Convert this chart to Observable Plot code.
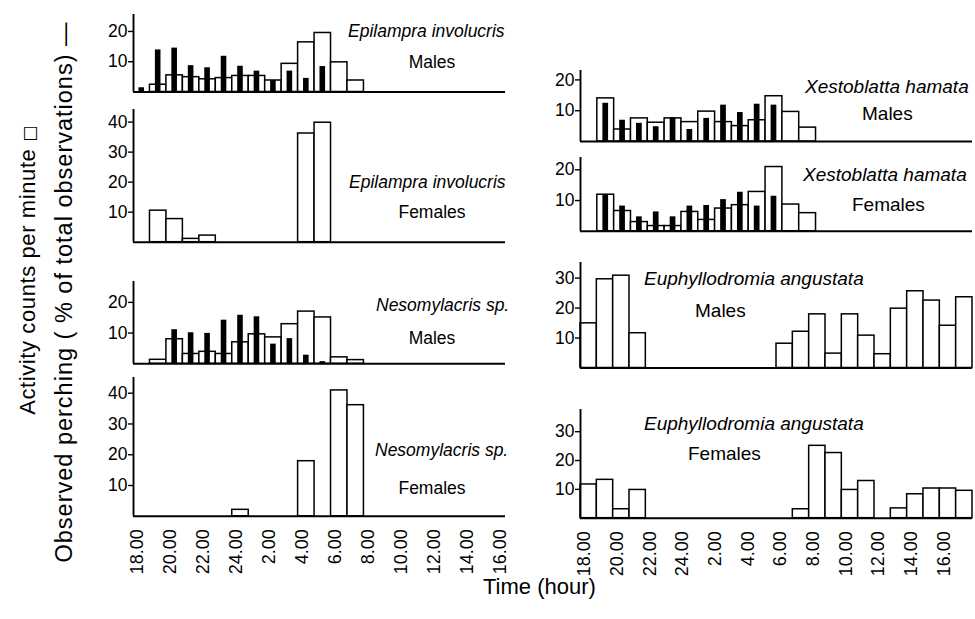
<!DOCTYPE html>
<html><head><meta charset="utf-8">
<script src="https://cdn.jsdelivr.net/npm/d3@7"></script>
<script src="https://cdn.jsdelivr.net/npm/@observablehq/plot@0.6"></script>
<style>
body{margin:0;background:#fff;}
#chart{position:relative;width:975px;height:619px;font-family:"Liberation Sans",Arial,Helvetica,sans-serif;overflow:hidden;}
#chart svg{position:absolute;max-width:none;}
</style></head><body><div id="chart"></div>
<script>
// ---- tick labels (clock hours, 18.00 -> 16.00 next day) ----
const tickHours = [18, 20, 22, 24, 26, 28, 30, 32, 34, 36, 38, 40];
const hourLabels = ["18.00","20.00","22.00","24.00","2.00","4.00","6.00","8.00","10.00","12.00","14.00","16.00"];

// ---- Epilampra involucris, males ----
const epiMaleActHours = [19,20,21,22,23,24,1,2,3,4,5,6,7];
const epiMaleAct      = [2.4,5.5,4.9,4.2,4.6,5.3,5.3,3.8,9.3,16.4,19.5,9.8,3.8];
const epiMalePerHours = [18,19,20,21,22,23,24,1,2,3,4,5];
const epiMalePer      = [1.4,13.9,14.5,8.7,8.0,11.8,8.5,6.9,3.8,6.9,4.5,8.4];
// ---- Epilampra involucris, females ----
const epiFemActHours = [19,20,21,22,4,5];
const epiFemAct      = [10.5,7.7,1.1,2.2,36.2,39.8];
// ---- Nesomylacris sp., males ----
const nesMaleActHours = [19,20,21,22,23,24,1,2,3,4,5,6,7];
const nesMaleAct      = [1.3,8.0,3.2,3.9,3.2,7.0,9.6,8.6,12.9,17.0,15.1,2.1,1.2];
const nesMalePerHours = [20,21,22,23,24,1,2,3,4,5];
const nesMalePer      = [11.1,10.1,9.9,14.2,15.8,15.3,6.4,8.2,2.8,0.7];
// ---- Nesomylacris sp., females ----
const nesFemActHours = [24,4,6,7];
const nesFemAct      = [2.1,17.9,40.9,36.1];
// ---- Xestoblatta hamata, males ----
const xesMaleActHours = [19,20,21,22,23,24,1,2,3,4,5,6,7];
const xesMaleAct      = [14.0,3.9,7.5,6.1,7.5,6.3,9.7,6.3,5.0,6.9,14.7,9.6,4.5];
const xesMalePerHours = [19,20,21,22,23,24,1,2,3,4,5];
const xesMalePer      = [12.4,6.9,5.9,4.8,7.7,3.9,7.5,11.8,9.4,12.1,11.8];
// ---- Xestoblatta hamata, females ----
const xesFemActHours = [19,20,21,22,23,24,1,2,3,4,5,6,7];
const xesFemAct      = [11.9,6.6,3.0,1.7,1.7,6.3,3.7,7.4,8.5,12.8,20.9,8.7,5.9];
const xesFemPerHours = [19,20,21,22,23,24,1,2,3,4,5];
const xesFemPer      = [11.9,8.2,4.7,6.3,4.7,8.2,8.4,10.3,12.7,8.2,11.4];
// ---- Euphyllodromia angustata, males ----
const eupMaleActHours = [18,19,20,21,6,7,8,9,10,11,12,13,14,15,16,17];
const eupMaleAct      = [14.9,29.6,30.8,11.6,8.1,12.1,17.9,4.8,17.9,10.8,4.6,19.8,25.6,22.5,14.1,23.6];
// ---- Euphyllodromia angustata, females ----
const eupFemActHours = [18,19,20,21,7,8,9,10,11,13,14,15,16,17];
const eupFemAct      = [11.7,13.3,3.1,9.8,3.1,25.1,22.6,9.8,12.9,3.4,8.3,10.3,10.3,9.5];

const FONT = '"Liberation Sans",Arial,Helvetica,sans-serif';
const chart = document.getElementById("chart");
const toT = h => (h < 18 ? h + 24 : h);
const rows = (hours, vals) => hours.map((h, i) => ({t: toT(h), v: vals[i]}));

function panel({x0, x1, yTop, yBase, xdomain, ymax, yticks, act, per, bottom}) {
  const ml = 50, mr = 4, mt = 4, mb = bottom ? 85 : 4;
  const marks = [
    Plot.rect(act, {x1: d => d.t - 0.5, x2: d => d.t + 0.5, y1: 0, y2: "v", fill: "white", stroke: "black", strokeWidth: 1.5}),
    Plot.rect(per, {x1: d => d.t - 0.17, x2: d => d.t + 0.17, y1: 0, y2: "v", fill: "black"}),
    Plot.ruleY([0], {stroke: "black", strokeWidth: 1.9}),
    Plot.ruleX([xdomain[0]], {y1: 0, y2: ymax, stroke: "black", strokeWidth: 1.9}),
    Plot.axisY({ticks: yticks, tickSize: 5, tickPadding: 1, fontSize: 17.5, label: null, strokeWidth: 1.4})
  ];
  if (bottom) marks.push(Plot.axisX({ticks: tickHours, tickFormat: d => hourLabels[tickHours.indexOf(d)], tickRotate: -90, tickSize: 0, tickPadding: 13, fontSize: 18, label: null, dx: -4}));
  const p = Plot.plot({
    width: (x1 - x0) + ml + mr, height: (yBase - yTop) + mt + mb,
    marginLeft: ml, marginRight: mr, marginTop: mt, marginBottom: mb,
    x: {domain: xdomain, axis: null},
    y: {domain: [0, ymax], axis: null},
    style: {background: "transparent", fontFamily: FONT, overflow: "visible", color: "black"},
    marks
  });
  p.style.left = (x0 - ml) + "px";
  p.style.top = (yTop - mt) + "px";
  chart.append(p);
}

const L = {x0: 133, x1: 505, xdomain: [17.5, 40.1]};
const R = {x0: 580, x1: 972, xdomain: [17.5, 41.5]};
const RX = {x0: 580, x1: 972, xdomain: [17.5, 40.8]};

panel({...L, yTop: 14, yBase: 91.5, ymax: 25.6, yticks: [10, 20], act: rows(epiMaleActHours, epiMaleAct), per: rows(epiMalePerHours, epiMalePer)});
panel({...L, yTop: 109.3, yBase: 242, ymax: 44.2, yticks: [10, 20, 30, 40], act: rows(epiFemActHours, epiFemAct), per: []});
panel({...L, yTop: 280.7, yBase: 363, ymax: 26.8, yticks: [10, 20], act: rows(nesMaleActHours, nesMaleAct), per: rows(nesMalePerHours, nesMalePer)});
panel({...L, yTop: 376.7, yBase: 515.5, ymax: 45.1, yticks: [10, 20, 30, 40], act: rows(nesFemActHours, nesFemAct), per: [], bottom: true});
panel({...RX, yTop: 70, yBase: 141, ymax: 23.05, yticks: [10, 20], act: rows(xesMaleActHours, xesMaleAct), per: rows(xesMalePerHours, xesMalePer)});
panel({...RX, yTop: 156.7, yBase: 230.5, ymax: 24.0, yticks: [10, 20], act: rows(xesFemActHours, xesFemAct), per: rows(xesFemPerHours, xesFemPer)});
panel({...R, yTop: 262, yBase: 367.5, ymax: 35.2, yticks: [10, 20, 30], act: rows(eupMaleActHours, eupMaleAct), per: []});
panel({...R, yTop: 409.3, yBase: 518, ymax: 37.7, yticks: [10, 20, 30], act: rows(eupFemActHours, eupFemAct), per: [], bottom: true});

// ---- text overlay ----
const svg = d3.select(chart).append("svg").attr("width", 975).attr("height", 619)
  .style("left", "0px").style("top", "0px").style("pointer-events", "none")
  .attr("font-family", FONT).attr("fill", "black");
const labels = [
  {t: "Epilampra involucris", x: 348, y: 37, s: 17.5, it: true, a: "start"},
  {t: "Males", x: 432, y: 68, s: 17.5, a: "middle"},
  {t: "Epilampra involucris", x: 349, y: 187.5, s: 17.5, it: true, a: "start"},
  {t: "Females", x: 432, y: 218, s: 17.5, a: "middle"},
  {t: "Nesomylacris sp.", x: 376, y: 311, s: 17.5, it: true, a: "start"},
  {t: "Males", x: 432, y: 344, s: 17.5, a: "middle"},
  {t: "Nesomylacris sp.", x: 375, y: 456, s: 17.5, it: true, a: "start"},
  {t: "Females", x: 432, y: 494, s: 17.5, a: "middle"},
  {t: "Xestoblatta hamata", x: 805, y: 93, s: 19, it: true, a: "start"},
  {t: "Males", x: 862, y: 120, s: 19, a: "start"},
  {t: "Xestoblatta hamata", x: 803, y: 181, s: 19, it: true, a: "start"},
  {t: "Females", x: 852, y: 211, s: 19, a: "start"},
  {t: "Euphyllodromia angustata", x: 644, y: 284.5, s: 19, it: true, a: "start"},
  {t: "Males", x: 695, y: 316.5, s: 19, a: "start"},
  {t: "Euphyllodromia angustata", x: 644, y: 429.5, s: 19, it: true, a: "start"},
  {t: "Females", x: 688, y: 459.5, s: 19, a: "start"}
];
svg.selectAll("text.lab").data(labels).join("text").attr("class", "lab")
  .attr("x", d => d.x).attr("y", d => d.y).attr("font-size", d => d.s)
  .attr("font-style", d => d.it ? "italic" : "normal").attr("text-anchor", d => d.a)
  .text(d => d.t);

const t1 = svg.append("text").attr("transform", "translate(35,270) rotate(-90)").attr("text-anchor", "middle")
  .attr("font-size", 22).attr("letter-spacing", 0.6);
t1.append("tspan").text("Activity counts per minute ");
t1.append("tspan").attr("font-family", '"DejaVu Sans"').attr("font-size", 17).attr("fill", "black").text("\u25A1");
svg.append("text").attr("transform", "translate(72,292) rotate(-90)").attr("text-anchor", "middle")
  .attr("font-size", 23.5).attr("letter-spacing", 1.0).text("Observed perching ( % of total observations) \u2014");
svg.append("text").attr("x", 483).attr("y", 594).attr("font-size", 22).text("Time (hour)");
</script></body></html>
